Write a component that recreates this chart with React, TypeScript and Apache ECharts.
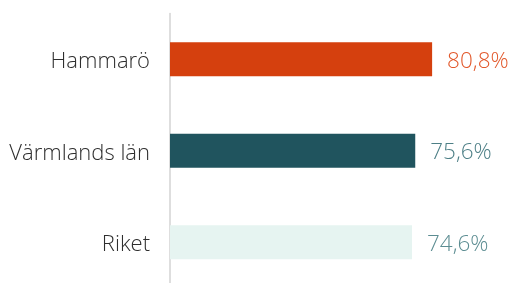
import React, { useEffect, useRef } from "react";
import * as echarts from "echarts";

const categories = ["Hammarö", "Värmlands län", "Riket"];
const values = [80.8, 75.6, 74.6];
const barColors = ["#D5400E", "#20545E", "#E6F4F1"];
const labelColors = ["#E2582B", "#4D7F86", "#5C8D92"];

export default function App() {
  const ref = useRef<HTMLDivElement>(null);
  useEffect(() => {
    if (!ref.current) return;
    const chart = echarts.init(ref.current, undefined, { renderer: "svg" });
    chart.setOption({
      animation: false,
      grid: { left: 170, right: 21.6, top: 13.5, bottom: 0, containLabel: false },
      xAxis: {
        type: "value",
        min: 0,
        max: 100,
        show: false,
      },
      yAxis: {
        type: "category",
        data: categories,
        inverse: true,
        axisLine: { show: true, lineStyle: { color: "#D3D3D3", width: 1.5 } },
        axisTick: { show: false },
        axisLabel: {
          color: "#2E2E2E",
          fontSize: 22,
          fontFamily: "Open Sans",
          fontWeight: 300,
          margin: 20,
        },
      },
      series: [
        {
          type: "bar",
          barWidth: 34,
          data: values.map((v, i) => ({
            value: v,
            itemStyle: { color: barColors[i] },
            label: { color: labelColors[i] },
          })),
          label: {
            show: true,
            position: "right",
            distance: 15,
            fontSize: 22.5,
            fontFamily: "Open Sans",
            fontWeight: 300,
            formatter: (p: any) => p.value.toFixed(1).replace(".", ",") + "%",
          },
        },
      ],
    });
    return () => chart.dispose();
  }, []);
  return (
    <div
      ref={ref}
      style={{ position: "fixed", left: 0, top: 0, width: 516, height: 288 }}
    />
  );
}
